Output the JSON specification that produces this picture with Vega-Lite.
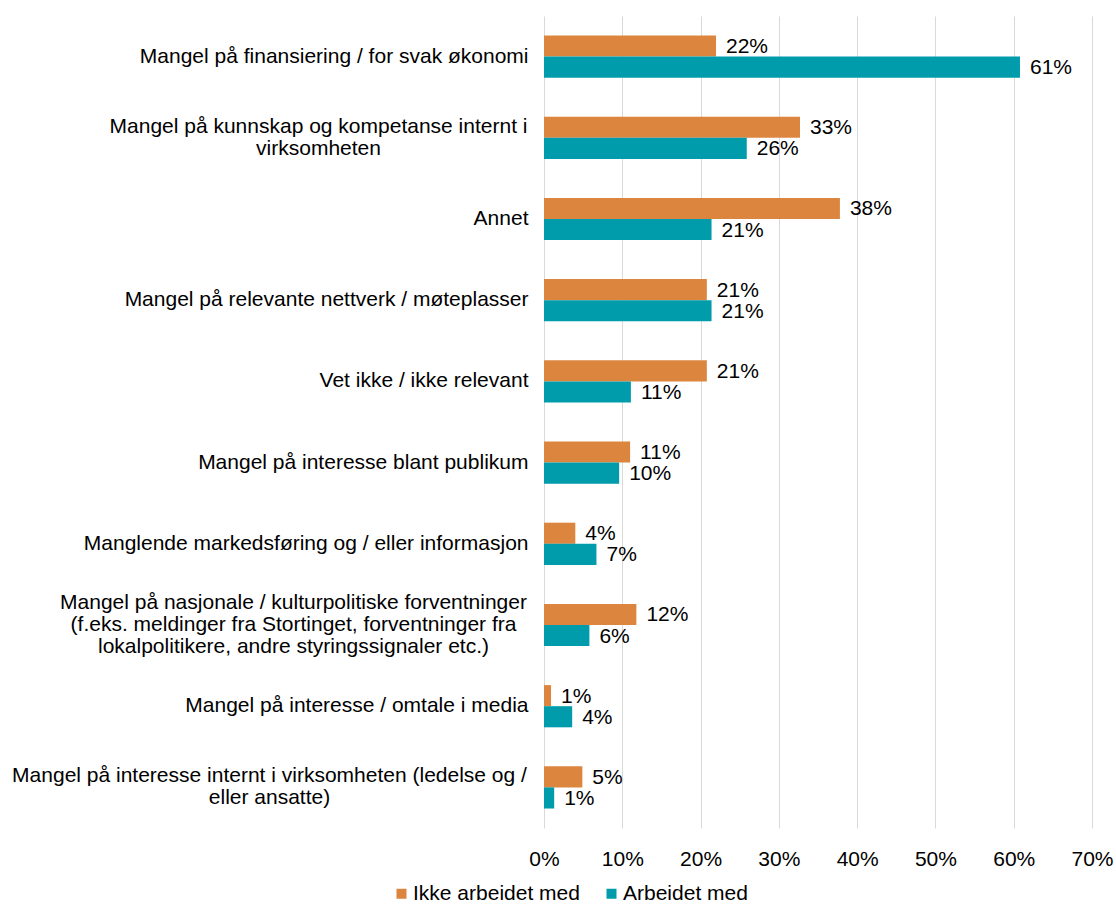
{
  "$schema": "https://vega.github.io/schema/vega-lite/v6.json",
  "width": 548,
  "height": 812,
  "autosize": {"type": "none"},
  "padding": {"left": 544, "top": 16, "right": 24, "bottom": 76},
  "config": {
    "view": {"stroke": null},
    "font": "Liberation Sans",
    "text": {"font": "Liberation Sans"}
  },
  "data": {
    "values": [
      {"category": "Mangel på finansiering / for svak økonomi", "series": "Ikke arbeidet med", "value": 0.2197},
      {"category": "Mangel på finansiering / for svak økonomi", "series": "Arbeidet med", "value": 0.608},
      {"category": "Mangel på kunnskap og kompetanse internt i|virksomheten", "series": "Ikke arbeidet med", "value": 0.327},
      {"category": "Mangel på kunnskap og kompetanse internt i|virksomheten", "series": "Arbeidet med", "value": 0.259},
      {"category": "Annet", "series": "Ikke arbeidet med", "value": 0.378},
      {"category": "Annet", "series": "Arbeidet med", "value": 0.214},
      {"category": "Mangel på relevante nettverk / møteplasser", "series": "Ikke arbeidet med", "value": 0.208},
      {"category": "Mangel på relevante nettverk / møteplasser", "series": "Arbeidet med", "value": 0.214},
      {"category": "Vet ikke / ikke relevant", "series": "Ikke arbeidet med", "value": 0.208},
      {"category": "Vet ikke / ikke relevant", "series": "Arbeidet med", "value": 0.111},
      {"category": "Mangel på interesse blant publikum", "series": "Ikke arbeidet med", "value": 0.11},
      {"category": "Mangel på interesse blant publikum", "series": "Arbeidet med", "value": 0.096},
      {"category": "Manglende markedsføring og / eller informasjon", "series": "Ikke arbeidet med", "value": 0.04},
      {"category": "Manglende markedsføring og / eller informasjon", "series": "Arbeidet med", "value": 0.067},
      {"category": "Mangel på nasjonale / kulturpolitiske forventninger|(f.eks. meldinger fra Stortinget, forventninger fra|lokalpolitikere, andre styringssignaler etc.)", "series": "Ikke arbeidet med", "value": 0.118},
      {"category": "Mangel på nasjonale / kulturpolitiske forventninger|(f.eks. meldinger fra Stortinget, forventninger fra|lokalpolitikere, andre styringssignaler etc.)", "series": "Arbeidet med", "value": 0.058},
      {"category": "Mangel på interesse / omtale i media", "series": "Ikke arbeidet med", "value": 0.009},
      {"category": "Mangel på interesse / omtale i media", "series": "Arbeidet med", "value": 0.036},
      {"category": "Mangel på interesse internt i virksomheten (ledelse og /|eller ansatte)", "series": "Ikke arbeidet med", "value": 0.049},
      {"category": "Mangel på interesse internt i virksomheten (ledelse og /|eller ansatte)", "series": "Arbeidet med", "value": 0.013}
    ]
  },
  "encoding": {
    "y": {
      "field": "category",
      "type": "nominal",
      "sort": null,
      "scale": {"paddingInner": 0.48, "paddingOuter": 0.24},
      "axis": {
        "title": null,
        "domain": false,
        "ticks": false,
        "grid": false,
        "labelFontSize": 21,
        "labelColor": "#000000",
        "labelLineHeight": 22,
        "labelLimit": 0,
        "labelExpr": "split(datum.value, '|')",
        "labelAlign": {"expr": "indexof(datum.value, '|') >= 0 ? 'center' : 'right'"},
        "labelOffset": {"expr": "indexof(datum.value, 'nasjonale') >= 0 ? -22 : indexof(datum.value, '|') >= 0 ? -11 : 0"},
        "labelPadding": {"expr": "indexof(datum.value, 'kunnskap') >= 0 ? 226 : indexof(datum.value, 'nasjonale') >= 0 ? 251 : indexof(datum.value, 'ledelse') >= 0 ? 275 : 16"}
      }
    },
    "yOffset": {"field": "series", "type": "nominal", "sort": ["Ikke arbeidet med", "Arbeidet med"]},
    "x": {
      "field": "value",
      "type": "quantitative",
      "scale": {"domain": [0, 0.7]},
      "axis": {
        "title": null,
        "format": ".0%",
        "values": [0, 0.1, 0.2, 0.3, 0.4, 0.5, 0.6, 0.7],
        "domain": false,
        "ticks": false,
        "grid": true,
        "gridColor": "#d9d9d9",
        "labelFontSize": 21,
        "labelColor": "#000000",
        "labelPadding": 20,
        "labelFlush": false
      }
    }
  },
  "layer": [
    {
      "mark": {"type": "bar"},
      "encoding": {
        "color": {
          "field": "series",
          "type": "nominal",
          "sort": ["Ikke arbeidet med", "Arbeidet med"],
          "scale": {"domain": ["Ikke arbeidet med", "Arbeidet med"], "range": ["#DC853F", "#009CAB"]},
          "legend": {
            "title": null,
            "orient": "none",
            "legendX": -153,
            "legendY": 867,
            "direction": "horizontal",
            "symbolType": "square",
            "symbolSize": 100,
            "symbolStrokeWidth": 0,
            "labelFontSize": 21,
            "labelColor": "#000000",
            "labelOffset": 1,
            "labelLimit": 0,
            "columnPadding": 21
          }
        }
      }
    },
    {
      "mark": {"type": "text", "align": "left", "baseline": "middle", "dx": 10, "dy": 1, "fontSize": 21, "color": "#000000"},
      "encoding": {
        "text": {"field": "value", "type": "quantitative", "format": ".0%"}
      }
    }
  ]
}
